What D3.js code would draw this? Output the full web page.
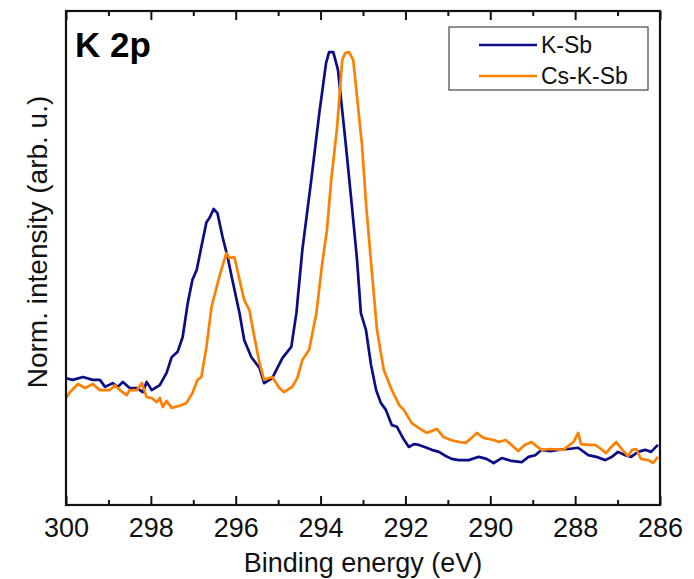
<!DOCTYPE html>
<html>
<head>
<meta charset="utf-8">
<script src="https://cdn.jsdelivr.net/npm/d3@7"></script>
<style>
  body { margin: 0; background: #fff; }
  text { font-family: "Liberation Sans", Arial, sans-serif; }
</style>
</head>
<body>
<div id="chart"></div>
<script>
// K 2p spectra
const kSbEnergy = [300.00, 299.84, 299.60, 299.37, 299.20, 299.08, 298.90, 298.78, 298.66, 298.50,
    298.33, 298.19, 298.10, 297.98, 297.79, 297.63, 297.51, 297.37, 297.25, 297.13,
    297.02, 296.92, 296.81, 296.69, 296.62, 296.52, 296.43, 296.31, 296.19, 296.08,
    295.91, 295.80, 295.63, 295.44, 295.33, 295.14, 294.90, 294.69, 294.57, 294.43,
    294.22, 294.03, 293.87, 293.80, 293.70, 293.59, 293.40, 293.26, 293.14, 293.05,
    292.93, 292.81, 292.69, 292.58, 292.46, 292.32, 292.20, 292.06, 291.92, 291.80,
    291.68, 291.50, 291.38, 291.21, 291.05, 290.91, 290.74, 290.51, 290.27, 290.09,
    289.92, 289.73, 289.50, 289.26, 289.10, 288.94, 288.79, 288.58, 288.40, 288.16,
    287.93, 287.69, 287.50, 287.29, 287.13, 286.99, 286.82, 286.68, 286.52, 286.35,
    286.21, 286.05];
const kSbIntensity = [0.208, 0.204, 0.211, 0.204, 0.204, 0.187, 0.196, 0.187, 0.199, 0.184,
    0.184, 0.174, 0.199, 0.179, 0.191, 0.221, 0.259, 0.272, 0.308, 0.391,
    0.447, 0.471, 0.527, 0.587, 0.597, 0.619, 0.609, 0.551, 0.502, 0.447,
    0.366, 0.301, 0.259, 0.233, 0.196, 0.208, 0.257, 0.284, 0.366, 0.519,
    0.689, 0.852, 0.974, 1.000, 1.000, 0.957, 0.770, 0.624, 0.495, 0.366,
    0.325, 0.240, 0.179, 0.148, 0.131, 0.094, 0.090, 0.063, 0.041, 0.048,
    0.046, 0.039, 0.034, 0.029, 0.019, 0.012, 0.009, 0.009, 0.017, 0.012,
    0.002, 0.014, 0.007, 0.004, 0.017, 0.021, 0.034, 0.031, 0.034, 0.036,
    0.039, 0.021, 0.017, 0.009, 0.017, 0.029, 0.021, 0.017, 0.029, 0.034,
    0.029, 0.046];

const csKSbEnergy = [300.00, 299.91, 299.72, 299.55, 299.37, 299.20, 298.97, 298.85, 298.73, 298.57,
    298.50, 298.33, 298.21, 298.10, 297.98, 297.86, 297.79, 297.72, 297.63, 297.51,
    297.32, 297.16, 297.02, 296.90, 296.81, 296.69, 296.57, 296.45, 296.34, 296.22,
    296.15, 296.03, 295.91, 295.80, 295.68, 295.56, 295.44, 295.33, 295.14, 294.97,
    294.86, 294.67, 294.55, 294.43, 294.27, 294.10, 293.96, 293.85, 293.75, 293.61,
    293.49, 293.42, 293.33, 293.23, 293.14, 293.02, 292.93, 292.81, 292.67, 292.51,
    292.32, 292.15, 292.04, 291.92, 291.85, 291.68, 291.50, 291.38, 291.26, 291.10,
    290.93, 290.74, 290.58, 290.44, 290.32, 290.16, 289.92, 289.80, 289.64, 289.50,
    289.34, 289.19, 289.03, 288.91, 288.79, 288.58, 288.28, 288.04, 287.93, 287.86,
    287.69, 287.53, 287.39, 287.27, 287.15, 287.03, 286.89, 286.75, 286.66, 286.56,
    286.45, 286.28, 286.16, 286.05];
const csKSbIntensity = [0.160, 0.174, 0.194, 0.184, 0.194, 0.179, 0.179, 0.191, 0.179, 0.167,
    0.179, 0.179, 0.196, 0.162, 0.160, 0.150, 0.160, 0.138, 0.153, 0.136,
    0.141, 0.148, 0.172, 0.204, 0.211, 0.284, 0.381, 0.430, 0.471, 0.512,
    0.500, 0.502, 0.447, 0.398, 0.374, 0.308, 0.245, 0.204, 0.211, 0.184,
    0.174, 0.187, 0.208, 0.252, 0.277, 0.366, 0.488, 0.568, 0.689, 0.818,
    0.981, 0.998, 1.000, 0.981, 0.891, 0.770, 0.634, 0.488, 0.325, 0.228,
    0.179, 0.143, 0.131, 0.111, 0.099, 0.087, 0.075, 0.080, 0.085, 0.065,
    0.058, 0.053, 0.051, 0.063, 0.075, 0.063, 0.058, 0.053, 0.058, 0.046,
    0.031, 0.046, 0.053, 0.043, 0.034, 0.036, 0.034, 0.053, 0.075, 0.048,
    0.046, 0.046, 0.036, 0.026, 0.041, 0.053, 0.034, 0.019, 0.034, 0.036,
    0.012, 0.009, 0.002, 0.017];

const majorTicks = [300, 298, 296, 294, 292, 290, 288, 286];
const minorTicks = [299, 297, 295, 293, 291, 289, 287];
const seriesNames = ["K-Sb", "Cs-K-Sb"];
const seriesColors = ["#0c0c86", "#ff8000"];

const width = 694;
const height = 579;
const margins = { top: 11, right: 34, bottom: 74, left: 66 };

const svg = d3.select("#chart")
    .append("svg")
    .attr("width", width)
    .attr("height", height);

const x = d3.scaleLinear()
    .domain([300, 286])
    .range([margins.left, width - margins.right]);
const y = d3.scaleLinear()
    .domain([-0.1, 1.1])
    .range([height - margins.bottom, margins.top]);

const series = [
    { name: seriesNames[0], color: seriesColors[0], pts: kSbEnergy.map((e, i) => [e, kSbIntensity[i]]) },
    { name: seriesNames[1], color: seriesColors[1], pts: csKSbEnergy.map((e, i) => [e, csKSbIntensity[i]]) }
];

const line = d3.line()
    .x(d => x(d[0]))
    .y(d => y(d[1]));

// curves
svg.append("g")
    .selectAll("path")
    .data(series)
    .join("path")
    .attr("d", d => line(d.pts))
    .attr("fill", "none")
    .attr("stroke", d => d.color)
    .attr("stroke-width", 2.7)
    .attr("stroke-linejoin", "round");

// axes, ticks pointing inward
const bottom = height - margins.bottom;
const gx = svg.append("g")
    .attr("transform", `translate(0,${bottom})`)
    .call(d3.axisBottom(x).tickValues(majorTicks).tickSize(-9).tickPadding(13).tickFormat(d3.format("d")))
    .call(g => g.select(".domain").remove());
gx.selectAll("text")
    .attr("font-size", 27)
    .attr("font-family", "Liberation Sans, Arial, sans-serif")
    .attr("fill", "#111");
gx.selectAll("line").attr("stroke", "#111").attr("stroke-width", 2);

svg.append("g")
    .attr("transform", `translate(0,${bottom})`)
    .call(d3.axisBottom(x).tickValues(minorTicks).tickSize(-5).tickFormat(""))
    .call(g => g.select(".domain").remove())
    .selectAll("line").attr("stroke", "#111").attr("stroke-width", 2);

svg.append("g")
    .attr("transform", `translate(0,${margins.top})`)
    .call(d3.axisTop(x).tickValues(majorTicks).tickSize(-9).tickFormat(""))
    .call(g => g.select(".domain").remove())
    .selectAll("line").attr("stroke", "#111").attr("stroke-width", 2);

svg.append("g")
    .attr("transform", `translate(0,${margins.top})`)
    .call(d3.axisTop(x).tickValues(minorTicks).tickSize(-5).tickFormat(""))
    .call(g => g.select(".domain").remove())
    .selectAll("line").attr("stroke", "#111").attr("stroke-width", 2);

// frame
svg.append("rect")
    .attr("x", margins.left)
    .attr("y", margins.top)
    .attr("width", width - margins.left - margins.right)
    .attr("height", height - margins.top - margins.bottom)
    .attr("fill", "none")
    .attr("stroke", "#111")
    .attr("stroke-width", 2.2);

// axis titles
svg.append("text")
    .attr("x", (margins.left + width - margins.right) / 2)
    .attr("y", 572)
    .attr("text-anchor", "middle")
    .attr("font-size", 27)
    .attr("fill", "#111")
    .text("Binding energy (eV)");

svg.append("text")
    .attr("transform", `translate(47,242) rotate(-90)`)
    .attr("text-anchor", "middle")
    .attr("font-size", 28)
    .attr("fill", "#111")
    .text("Norm. intensity (arb. u.)");

// panel label
svg.append("text")
    .attr("x", 75)
    .attr("y", 57)
    .attr("font-size", 35)
    .attr("font-weight", "bold")
    .attr("fill", "#000")
    .text("K 2p");

// legend
const legend = svg.append("g");
legend.append("rect")
    .attr("x", 449)
    .attr("y", 27)
    .attr("width", 199)
    .attr("height", 63)
    .attr("fill", "#fff")
    .attr("stroke", "#444")
    .attr("stroke-width", 1.2);

const item = legend.selectAll("g.item")
    .data(series)
    .join("g")
    .attr("class", "item")
    .attr("transform", (_, i) => `translate(0,${45 + i * 31})`);
item.append("line")
    .attr("x1", 479)
    .attr("x2", 537)
    .attr("stroke", d => d.color)
    .attr("stroke-width", 2.7);
item.append("text")
    .attr("x", 541)
    .attr("y", 8)
    .attr("font-size", 23)
    .attr("fill", "#111")
    .text(d => d.name);
</script>
</body>
</html>
